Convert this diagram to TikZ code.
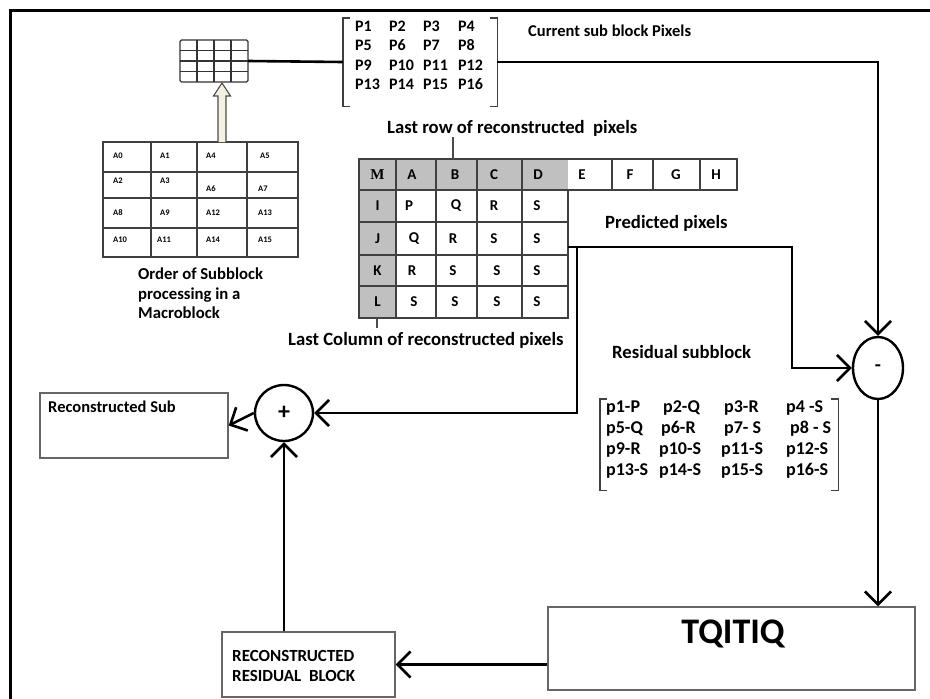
\documentclass[tikz,border=0pt]{standalone}
\usepackage{fontspec}
\setmainfont{Carlito}
\newfontfamily\serifface{Liberation Serif}
\usetikzlibrary{arrows.meta,shapes.geometric}
\definecolor{cellgray}{HTML}{C0C0C0}
\definecolor{cream}{HTML}{F4F1E1}
\begin{document}
\begin{tikzpicture}[x=1pt,y=-1pt,
  conn/.style={line width=2.6pt,black},
  arr/.style={conn,-{Straight Barb[length=13pt,width=26pt]}},
  box/.style={draw=black!60,line width=1.4pt,inner sep=0,fill=white},
  tab/.style={draw=black!75,line width=1.5pt},
  tickline/.style={draw=black!70,line width=1.2pt},
  lbl/.style={font=\fontsize{18.7}{21}\selectfont\bfseries,anchor=mid west,inner sep=0},
  pent/.style={font=\fontsize{16}{18}\selectfont\bfseries,anchor=mid west,inner sep=0},
  rent/.style={font=\fontsize{18}{20}\selectfont\bfseries,anchor=mid west,inner sep=0},
  let/.style={font=\fontsize{15}{16}\selectfont\bfseries,inner sep=0},
  tiny/.style={font=\fontsize{8.5}{9}\selectfont\bfseries,anchor=mid west,inner sep=0},
  opcirc/.style={ellipse,draw=black,line width=2.4pt,inner sep=0,fill=white}]
\useasboundingbox (0,0) rectangle (930,699);

% page frame (top and left edges)
\draw[line width=3pt] (10.5,699) -- (10.5,10.5) -- (930,10.5);

% ---- small 4x4 block icon ----
\node[inner sep=0,minimum width=68pt,minimum height=42pt] (grid) at (214,61) {};
\draw[line width=1.3pt,black!80,rounded corners=1.5pt] (180,40) rectangle (248,82);
\foreach \x in {197,214,231} \draw[line width=1.2pt,black!80] (\x,40) -- (\x,82);
\foreach \y in {50.5,61,71.5} \draw[line width=1.2pt,black!80] (180,\y) -- (248,\y);

% ---- subblock order table ----
\node[inner sep=0,minimum width=195pt,minimum height=115pt] (order) at (200.5,199.5) {};
\draw[tab] (103,142) rectangle (298,257);
\foreach \x in {151,197,247} \draw[tab] (\x,142) -- (\x,257);
\foreach \y in {172,198,228} \draw[tab] (103,\y) -- (298,\y);
\node[tiny] (a0) at (113,156) {A0};
\node[tiny] (a1) at (160,156) {A1};
\node[tiny] (a4) at (206,156) {A4};
\node[tiny] (a5) at (260,156) {A5};
\node[tiny] (a2) at (113,181) {A2};
\node[tiny] (a3) at (160,181) {A3};
\node[tiny] (a6) at (206,189) {A6};
\node[tiny] (a7) at (258,189) {A7};
\node[tiny] (a8) at (113,213) {A8};
\node[tiny] (a9) at (160,213) {A9};
\node[tiny] (a12) at (206,213) {A12};
\node[tiny] (a13) at (258,213) {A13};
\node[tiny] (a10) at (113,240) {A10};
\node[tiny] (a11) at (157,240) {A11};
\node[tiny] (a14) at (206,240) {A14};
\node[tiny] (a15) at (258,240) {A15};
\node[font=\fontsize{16.7}{19.5}\selectfont\bfseries,align=left,anchor=north west,inner sep=0] (ordercap) at (138,268)
  {Order of Subblock\\processing in a\\Macroblock};

% hollow arrow from the order table up to the block icon
\coordinate (harrowtop) at (222,83);
\coordinate (harrowbase) at (222,142);
\draw[black!70,line width=1.1pt,fill=cream,line join=miter]
  ([xshift=-4pt]harrowbase) -- ++(0,-46) -- ++(-4.5,0) -- (harrowtop) -- ++(8.5,13) -- ++(-4.5,0) -- ([xshift=4pt]harrowbase);

% ---- current sub block pixels ----
\node[inner sep=0,minimum width=154pt,minimum height=88pt] (cur) at (420,62) {};
\draw[line width=1.4pt,black!75] ([xshift=7pt]cur.north west) -- (cur.north west) -- (cur.south west) -- ([xshift=7pt]cur.south west);
\draw[line width=1.4pt,black!75] ([xshift=-7pt]cur.north east) -- (cur.north east) -- (cur.south east) -- ([xshift=-7pt]cur.south east);
\node[pent] (p1) at (355,29) {P1};
\node[pent] (p2) at (389,29) {P2};
\node[pent] (p3) at (423,29) {P3};
\node[pent] (p4) at (458,29) {P4};
\node[pent] (p5) at (355,48.5) {P5};
\node[pent] (p6) at (389,48.5) {P6};
\node[pent] (p7) at (423,48.5) {P7};
\node[pent] (p8) at (458,48.5) {P8};
\node[pent] (p9) at (355,68) {P9};
\node[pent] (p10) at (389,68) {P10};
\node[pent] (p11) at (423,68) {P11};
\node[pent] (p12) at (458,68) {P12};
\node[pent] (p13) at (355,87.5) {P13};
\node[pent] (p14) at (389,87.5) {P14};
\node[pent] (p15) at (423,87.5) {P15};
\node[pent] (p16) at (458,87.5) {P16};
\node[lbl,font=\fontsize{16.5}{19}\selectfont\bfseries] (curlbl) at (528,34) {Current sub block Pixels};

% ---- prediction table ----
\node[lbl] (lastrow) at (387,131) {Last row of reconstructed\ \ pixels};
\fill[cellgray] (359,159) rectangle (568,190);
\fill[cellgray] (359,190) rectangle (396,318);
\draw[tab] (359,159) rectangle (737,190);
\draw[tab] (359,190) rectangle (568,318);
\foreach \x in {396,436,477,522} \draw[tab] (\x,159) -- (\x,318);
\foreach \x in {612,653,700} \draw[tab] (\x,159) -- (\x,190);
\foreach \y in {222,255,286} \draw[tab] (359,\y) -- (568,\y);
\coordinate (tk1) at (453,159);
\draw[tickline] (tk1 |- lastrow.south) -- (tk1);
\coordinate (tk2) at (377,318);
\draw[tickline] (tk2) -- ++(0,10);

\node[let,font=\fontsize{15}{16}\selectfont\serifface\bfseries] (tM) at (377.5,175) {M};
\node[let] (tA) at (412,174.5) {A};
\node[let] (tB) at (455,174.5) {B};
\node[let] (tC) at (494,174.5) {C};
\node[let] (tD) at (538,174.5) {D};
\node[let] (tE) at (582,174.5) {E};
\node[let] (tF) at (630,174.5) {F};
\node[let] (tG) at (676,174.5) {G};
\node[let] (tH) at (716,174.5) {H};
\node[let] (tI) at (377.5,206) {I};
\node[let] (tJ) at (377.5,238.5) {J};
\node[let] (tK) at (377.5,270.5) {K};
\node[let] (tL) at (377.5,302) {L};
\node[let] (r1a) at (409,206) {P};
\node[let] (r1b) at (456,206) {Q};
\node[let] (r1c) at (494,206) {R};
\node[let] (r1d) at (537,206) {S};
\node[let] (r2a) at (414,238.5) {Q};
\node[let] (r2b) at (453,238.5) {R};
\node[let] (r2c) at (494,238.5) {S};
\node[let] (r2d) at (537,238.5) {S};
\node[let] (r3a) at (412,270.5) {R};
\node[let] (r3b) at (453,270.5) {S};
\node[let] (r3c) at (497,270.5) {S};
\node[let] (r3d) at (537,270.5) {S};
\node[let] (r4a) at (414,302) {S};
\node[let] (r4b) at (455,302) {S};
\node[let] (r4c) at (497,302) {S};
\node[let] (r4d) at (537,302) {S};
\node[lbl] (predlbl) at (605,226) {Predicted pixels};
\node[lbl] (lastcol) at (288,343) {Last Column of reconstructed pixels};

% ---- residual subblock ----
\node[lbl] (reslbl) at (612,356) {Residual subblock};
\node[inner sep=0,minimum width=238pt,minimum height=91pt] (res) at (719,444.5) {};
\draw[line width=1.4pt,black!75] ([xshift=7pt]res.north west) -- (res.north west) -- (res.south west) -- ([xshift=7pt]res.south west);
\draw[line width=1.4pt,black!75] ([xshift=-7pt]res.north east) -- (res.north east) -- (res.south east) -- ([xshift=-7pt]res.south east);
\node[rent] (d1) at (606,410) {p1-P};
\node[rent] (d2) at (663,410) {p2-Q};
\node[rent] (d3) at (724,410) {p3-R};
\node[rent] (d4) at (786,410) {p4 -S};
\node[rent] (d5) at (606,431) {p5-Q};
\node[rent] (d6) at (661,431) {p6-R};
\node[rent] (d7) at (724,431) {p7- S};
\node[rent] (d8) at (790,431) {p8 - S};
\node[rent] (d9) at (606,452) {p9-R};
\node[rent] (d10) at (659,452) {p10-S};
\node[rent] (d11) at (721,452) {p11-S};
\node[rent] (d12) at (786,452) {p12-S};
\node[rent] (d13) at (606,473) {p13-S};
\node[rent] (d14) at (659,473) {p14-S};
\node[rent] (d15) at (721,473) {p15-S};
\node[rent] (d16) at (786,473) {p16-S};

% ---- operators and blocks ----
\node[opcirc,minimum width=50pt,minimum height=62pt,font=\fontsize{20}{20}\selectfont\bfseries] (minus) at (878,368) {-};
\node[opcirc,minimum width=58pt,minimum height=56pt,font=\fontsize{24}{24}\selectfont\bfseries] (plus) at (284,413) {+};

\node[box,minimum width=188pt,minimum height=65pt] (recsub) at (134,425.5) {};
\node[inner sep=0,anchor=mid west,font=\fontsize{16.5}{19}\selectfont\bfseries] (recsubtxt) at (48,410) {Reconstructed Sub};

\node[box,minimum width=367pt,minimum height=83pt] (tq) at (731.5,648.5) {};
\node[inner sep=0,font=\fontsize{36}{38}\selectfont\bfseries] (tqtxt) at (733,634) {TQITIQ};

\node[box,minimum width=173pt,minimum height=65pt] (rrb) at (308.5,664.5) {};
\node[inner sep=0,anchor=north west,align=left,font=\fontsize{17}{20}\selectfont\bfseries] (rrbtxt) at (232,650)
  {RECONSTRUCTED\\RESIDUAL\ \ BLOCK};

% ---- connectors ----
\draw[conn] (grid.east) -- (cur.west);
\draw[arr] (cur.east) -| (minus.north);
\coordinate (jout) at (568,247);
\coordinate (bend) at (792,247);
\coordinate (split) at (577,247);
\draw[arr] (jout) -- (bend) |- (minus.west);
\draw[arr] (split) |- (plus.east);
\draw[arr] (minus.south) -- (minus.south |- tq.north);
\draw[arr] (tq.west |- rrb.east) -- (rrb.east);
\draw[arr] (plus.south |- rrb.north) -- (plus.south);
\draw[arr] (plus.west) -- (recsub.east);
\end{tikzpicture}
\end{document}
